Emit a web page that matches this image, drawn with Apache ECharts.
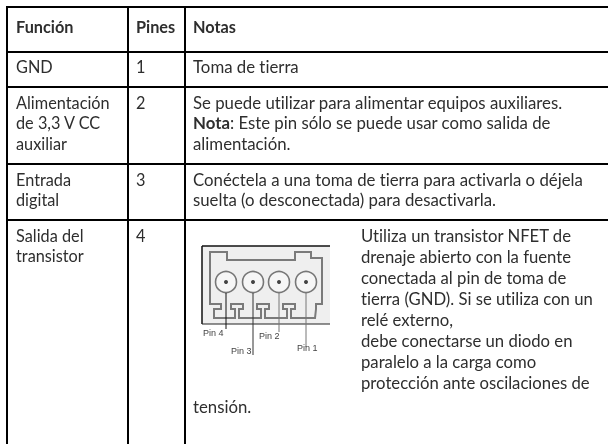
<!DOCTYPE html>
<html>
<head>
<meta charset="utf-8">
<script src="https://cdn.jsdelivr.net/npm/echarts@6/dist/echarts.min.js"></script>
<style>
  html, body { margin: 0; padding: 0; background: #fff; }
  #tabla { width: 608px; height: 444px; }
  #tabla svg { will-change: transform; }
  /* el font inline de cada texto resetea las ligaduras, por eso el important */
  #tabla text, #tabla tspan { font-variant-ligatures: none !important; }
</style>
</head>
<body>
<div id="tabla"></div>
<script>
// contenido de la tabla
var cabeceras = ['Función', 'Pines', 'Notas'];
var funciones = [
  ['GND'],
  ['Alimentación', 'de 3,3 V CC', 'auxiliar'],
  ['Entrada', 'digital'],
  ['Salida del', 'transistor']
];
var pines = ['1', '2', '3', '4'];
var notas = [
  ['Toma de tierra'],
  ['Se puede utilizar para alimentar equipos auxiliares.',
   '{b|Nota}: Este pin sólo se puede usar como salida de',
   'alimentación.'],
  ['Conéctela a una toma de tierra para activarla o déjela',
   'suelta (o desconectada) para desactivarla.']
];
var notasTransistor = [
  'Utiliza un transistor NFET de',
  'drenaje abierto con la fuente',
  'conectada al pin de toma de',
  'tierra (GND). Si se utiliza con un',
  'relé externo,',
  'debe conectarse un diodo en',
  'paralelo a la carga como',
  'protección ante oscilaciones de'
];
var notaFinal = 'tensión.';
var etiquetasPin = ['Pin 4', 'Pin 3', 'Pin 2', 'Pin 1'];

// layout
var columnasX = [7, 128, 185];
var filasY = [7, 52, 87, 164, 220];
var textoX = [16, 136, 193];
var filaTextoY = [66, 102, 179, 235];
var altoLinea = 20.6;
var fuente = 'Lato, sans-serif';
var tamano = 16.3;
var tamanoNotas = 16.8;
var colorTexto = '#2e2e2e';

var elementos = [];

function linea(x1, y1, x2, y2, color, ancho) {
  elementos.push({
    type: 'line',
    shape: { x1: x1, y1: y1, x2: x2, y2: y2 },
    style: { stroke: color, lineWidth: ancho }
  });
}

function texto(x, y, t, opciones) {
  opciones = opciones || {};
  var size = opciones.size || tamano;
  elementos.push({
    type: 'text',
    x: x,
    y: y,
    style: {
      text: t,
      fill: opciones.color || colorTexto,
      font: (opciones.bold ? 'bold ' : '') + size + 'px ' + (opciones.family || fuente),
      textVerticalAlign: 'middle',
      rich: { b: { fontWeight: 'bold', fontSize: size, fontFamily: fuente, fill: colorTexto } }
    }
  });
}

// rejilla, sin borde derecho ni inferior
columnasX.forEach(function (x) { linea(x, 6, x, 444, '#000', 2); });
filasY.forEach(function (y) { linea(6, y, 608, y, '#000', 2); });

cabeceras.forEach(function (c, i) { texto(textoX[i], 26, c, { bold: true, size: 16.3 }); });

funciones.forEach(function (lineas, f) {
  lineas.forEach(function (l, i) { texto(textoX[0], filaTextoY[f] + i * altoLinea, l); });
  texto(textoX[1], filaTextoY[f], pines[f]);
});
notas.forEach(function (lineas, f) {
  lineas.forEach(function (l, i) { texto(textoX[2], filaTextoY[f] + i * altoLinea, l, { size: tamanoNotas }); });
});
notasTransistor.forEach(function (l, i) { texto(361, 236 + i * 21, l, { size: 16.7 }); });
texto(textoX[2], 406, notaFinal, { size: tamanoNotas });

// dibujo del conector
elementos.push({
  type: 'rect',
  shape: { x: 202, y: 246, width: 128, height: 78 },
  style: { fill: '#efefef' }
});
linea(202, 246, 330, 246, '#111', 1.5);
linea(202, 246, 202, 324, '#111', 1.5);
linea(202, 324, 330, 324, '#222', 1);

var contorno = [[210, 252], [227, 252], [227, 260], [295, 260], [295, 252], [311, 252], [311, 258], [322, 258],
  [322, 304], [316, 304], [316, 309], [315, 318], [291, 318], [291, 309], [295, 309], [295, 304], [283, 304],
  [283, 309], [287, 309], [287, 318], [265, 318], [265, 309], [269, 309], [269, 304], [257, 304], [257, 309],
  [261, 309], [261, 318], [239, 318], [239, 309], [243, 309], [243, 304], [231, 304], [231, 309], [235, 309],
  [235, 318], [214, 318], [214, 309], [221, 309], [221, 304], [210, 304]];
elementos.push({
  type: 'polygon',
  shape: { points: contorno },
  style: { fill: 'none', stroke: '#7a7a7a', lineWidth: 2 }
});

var pinX = [226, 253, 279, 306];
var pinFin = [329, 355, 332, 347];
var pinColor = ['#111', '#333', '#777', '#777'];
var pinTexto = [[203, 333], [231, 351], [259, 336], [297, 348]];
pinX.forEach(function (x, i) {
  elementos.push({
    type: 'circle',
    shape: { cx: x, cy: 282, r: 10.5 },
    style: { fill: '#f6f6f6', stroke: '#777', lineWidth: 1.6 }
  });
  elementos.push({
    type: 'circle',
    shape: { cx: x, cy: 282, r: 2 },
    style: { fill: '#444' }
  });
  linea(x, 293, x, pinFin[i], pinColor[i], 1);
  texto(pinTexto[i][0], pinTexto[i][1], etiquetasPin[i], {
    size: 9, family: '"Liberation Sans", sans-serif', color: '#444'
  });
});

var chart = echarts.init(document.getElementById('tabla'), null, { renderer: 'svg' });
chart.setOption({
  animation: false,
  backgroundColor: '#fff',
  graphic: { elements: elementos }
});
</script>
</body>
</html>
